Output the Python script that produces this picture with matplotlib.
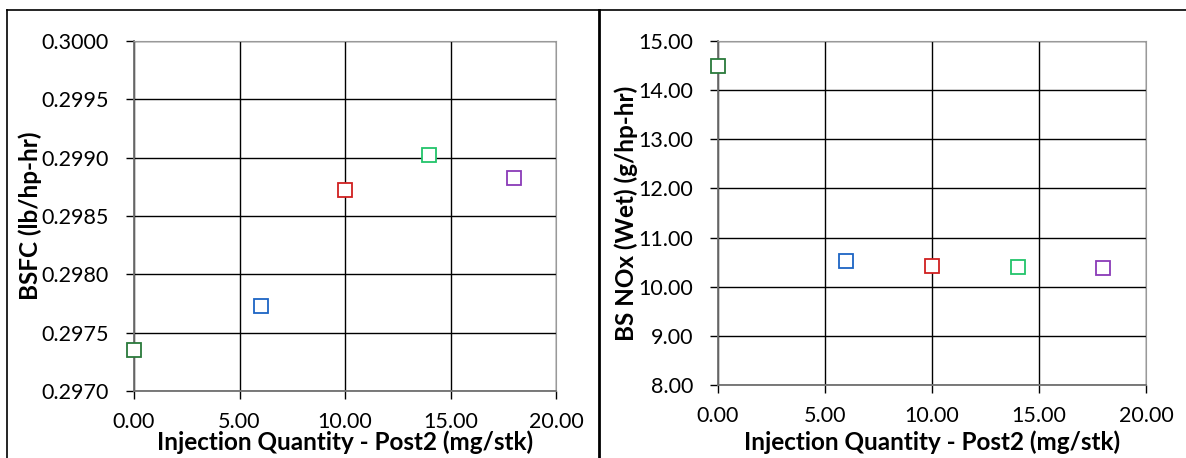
import matplotlib.pyplot as plt
from matplotlib.lines import Line2D

# post2 injection quantity sweep (mg/stk)
post2_qty = [0.0, 6.0, 10.0, 14.0, 18.0]
bsfc = [0.29735, 0.29773, 0.29872, 0.29902, 0.29883]
bsnox = [14.50, 10.53, 10.42, 10.41, 10.38]
point_colors = ['#2a7a3a', '#1c64c4', '#d02020', '#22c46a', '#8a3ab8']

x_ticks = [0, 5, 10, 15, 20]
bsfc_ticks = [0.2970, 0.2975, 0.2980, 0.2985, 0.2990, 0.2995, 0.3000]
nox_ticks = [8, 9, 10, 11, 12, 13, 14, 15]

plt.rcParams['font.family'] = ['Lato', 'DejaVu Sans']

fig = plt.figure(figsize=(11.86, 4.58), dpi=100)
ax1 = fig.add_axes([134 / 1186, 1 - 391 / 458, 422 / 1186, 350 / 458])
ax2 = fig.add_axes([718 / 1186, 1 - 385 / 458, 428 / 1186, 344 / 458])


def style_axis(ax, yticks, yfmt, ylabel, xlabel_y):
    ax.set_xlim(0, 20)
    ax.set_ylim(yticks[0], yticks[-1])
    ax.set_xticks(x_ticks)
    ax.set_xticklabels(['%.2f' % v for v in x_ticks])
    ax.set_yticks(yticks)
    ax.set_yticklabels([yfmt % v for v in yticks])
    ax.grid(True, color='black', linewidth=1.0)
    ax.set_axisbelow(True)
    ax.tick_params(direction='out', length=6, width=1, labelsize=15.5, colors='black')
    ax.tick_params(axis='y', pad=12)
    ax.tick_params(axis='x', pad=9)
    for side in ['top', 'right']:
        ax.spines[side].set_color('#999999')
    for side in ['left', 'bottom']:
        ax.spines[side].set_color('#707070')
        ax.spines[side].set_linewidth(1.3)
    ax.set_xlabel('Injection Quantity - Post2 (mg/stk)', fontsize=17.5, fontweight='bold')
    ax.xaxis.set_label_coords(0.5, xlabel_y)
    ax.set_ylabel(ylabel, fontsize=17.5, fontweight='bold', labelpad=0)


style_axis(ax1, bsfc_ticks, '%.4f', 'BSFC (lb/hp-hr)', -0.112)
style_axis(ax2, nox_ticks, '%.2f', 'BS NOx (Wet) (g/hp-hr)', -0.132)

for x, y1, y2, c in zip(post2_qty, bsfc, bsnox, point_colors):
    ax1.plot(x, y1, 's', ms=10, mfc='white', mec=c, mew=1.3, clip_on=False, zorder=5)
    ax2.plot(x, y2, 's', ms=10, mfc='white', mec=c, mew=1.3, clip_on=False, zorder=5)

# panel frames
fig.add_artist(Line2D([7 / 1186, 1], [1 - 10 / 458] * 2, color='black', lw=1.2))
fig.add_artist(Line2D([7 / 1186] * 2, [0, 1 - 10 / 458], color='black', lw=1.2))
fig.add_artist(Line2D([598.5 / 1186] * 2, [0, 1 - 10 / 458], color='black', lw=2.0))

fig.savefig('out.png', dpi=100)
